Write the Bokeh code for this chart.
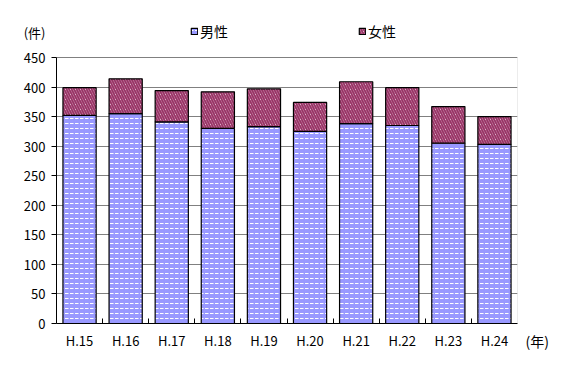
from bokeh.plotting import figure
from bokeh.models import Range1d, FixedTicker, Legend, LegendItem, LinearAxis, BoxAnnotation
from bokeh.embed import file_html
from bokeh.resources import INLINE

years = ["H.15", "H.16", "H.17", "H.18", "H.19", "H.20", "H.21", "H.22", "H.23", "H.24"]
male = [352, 355, 341, 330, 333, 325, 338, 335, 305, 303]
female = [47, 59, 53, 62, 64, 49, 71, 64, 62, 47]
y_ticks = [0, 50, 100, 150, 200, 250, 300, 350, 400, 450]
y_unit = "(件)"
x_unit = "(年)"

xs = list(range(1, len(years) + 1))
FONT = "Noto Sans CJK JP"
y_max = y_ticks[-1]
# frame runs from 10 px to 323 px; the 0..450 plot area spans 266 px of it
y_top = y_max * 313 / 266

p = figure(width=571, height=375, output_backend="svg", toolbar_location=None,
           x_range=Range1d(0.5, len(years) + 0.5), y_range=Range1d(0, y_top),
           min_border_left=56, min_border_right=54, min_border_top=10, min_border_bottom=52)

src = dict(x=xs, male=male, female=female)
r = p.vbar_stack(["male", "female"], x="x", width=0.72, source=src,
                 fill_color=["#9999FF", "white"],
                 hatch_color=["white", "#993366"],
                 hatch_pattern=['"', "\\"],
                 hatch_scale=[5, 5], hatch_weight=[1, 2],
                 line_color="black", line_width=1.2)

p.outline_line_color = None
p.background_fill_color = "white"
p.add_layout(BoxAnnotation(left=0.5, right=len(years) + 0.5, bottom=0, top=y_max,
                           fill_color=None, fill_alpha=0, line_color="#808080",
                           line_width=1, level="underlay"))
p.xgrid.grid_line_color = None
p.ygrid.grid_line_color = "#808080"
p.ygrid.ticker = FixedTicker(ticks=y_ticks)

# left axis; the unit "(件)" sits above the top tick label
p.yaxis.ticker = FixedTicker(ticks=y_ticks)
p.yaxis.bounds = (0, y_max)
p.yaxis.major_label_overrides = {y_max: y_unit + "\n" + str(y_max) + "\n"}
p.yaxis.axis_line_color = "black"
p.yaxis.major_tick_line_color = "black"
p.yaxis.major_tick_out = 5
p.yaxis.major_tick_in = 0
p.yaxis.minor_tick_line_color = None
p.yaxis.major_label_text_font = FONT
p.yaxis.major_label_text_font_size = "13px"
p.yaxis.major_label_text_line_height = 1.33
p.yaxis.major_label_text_color = "black"
p.yaxis.major_label_standoff = 6

p.xaxis.ticker = FixedTicker(ticks=xs, minor_ticks=[x + 0.5 for x in xs[:-1]])
p.xaxis.major_label_overrides = {x: y for x, y in zip(xs, years)}
p.xaxis.axis_line_color = "black"
p.xaxis.major_tick_line_color = None
p.xaxis.minor_tick_line_color = "black"
p.xaxis.minor_tick_in = 5
p.xaxis.minor_tick_out = 0
p.xaxis.major_label_text_font = FONT
p.xaxis.major_label_text_font_size = "13px"
p.xaxis.major_label_text_color = "black"
p.xaxis.major_label_standoff = 1

# right axis only carries the "(年)" unit, level with the x tick labels
ra = LinearAxis(ticker=FixedTicker(ticks=[0]), major_label_overrides={0: "\n\n" + x_unit},
                axis_line_color=None, major_tick_line_color=None, minor_tick_line_color=None,
                major_tick_out=0, major_tick_in=0, minor_tick_out=0, major_label_standoff=8,
                major_label_text_font=FONT, major_label_text_font_size="14px",
                major_label_text_line_height=0.87, major_label_text_color="black")
p.add_layout(ra, "right")

legend = Legend(items=[LegendItem(label="男性", renderers=[r[0]]),
                       LegendItem(label="女性", renderers=[r[1]])],
                location=(134, 282), orientation="horizontal",
                glyph_width=8, glyph_height=8, label_standoff=2, spacing=130,
                padding=0, margin=0, border_line_color=None, background_fill_alpha=0,
                label_text_font=FONT, label_text_font_size="14px", label_text_color="black")
p.add_layout(legend)

open("out.html", "w").write(file_html(p, INLINE))
